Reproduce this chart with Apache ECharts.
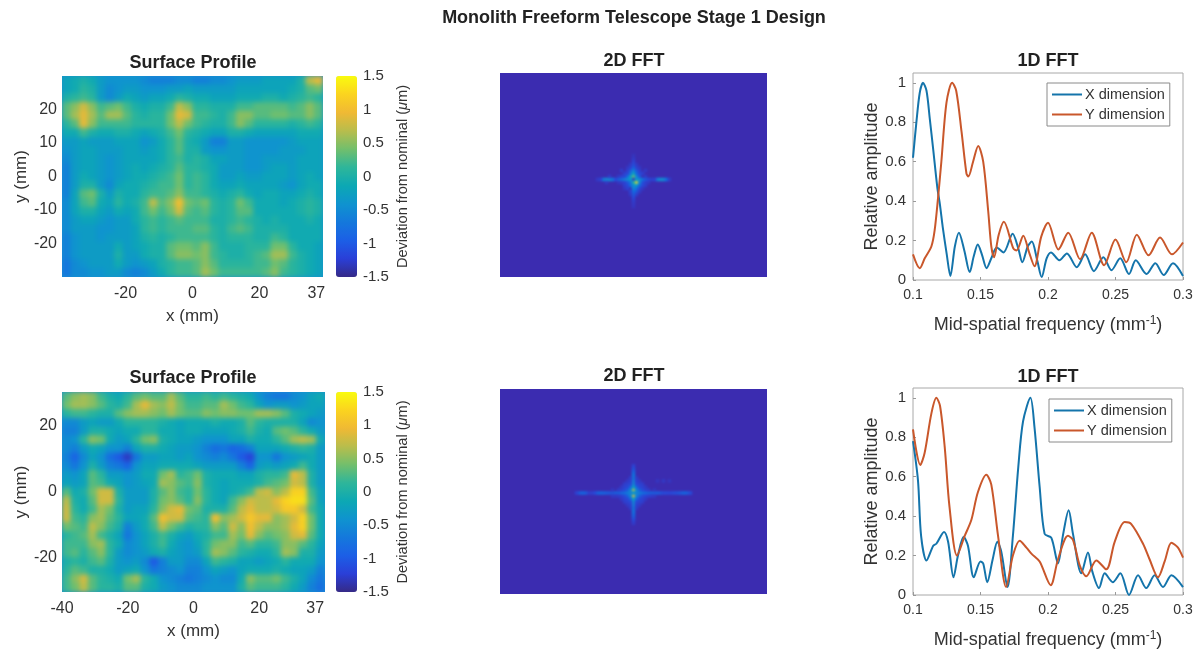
<!DOCTYPE html>
<html><head><meta charset="utf-8">
<style>html,body{margin:0;padding:0;background:#fff;overflow:hidden}#c{width:1204px;height:651px}</style>
<script src="https://cdn.jsdelivr.net/npm/echarts@6/dist/echarts.min.js"></script>
</head><body><div id="c"></div>
<script>
// Surface deviation, tenths of a micron, rows top to bottom
const surfaceTop = [
[-2,-1,0,-1,-3,-4,-4,-4,-4,-5,-6,-6,-6,-5,-5,-6,-6,-5,-5,-4,-3,-3,-3,-2,-2,-2,-2,0,7,9],
[-2,-1,1,0,-3,-5,-4,-3,-3,-4,-4,-4,-3,-3,-2,-3,-3,-3,-3,-3,-2,-2,-2,-2,-2,-2,-1,0,3,4],
[0,1,2,1,-3,-5,-3,-1,-2,-3,-2,-2,-1,1,0,-1,-1,-2,-2,-2,-1,-1,-1,0,0,-1,0,1,2,1],
[3,5,8,5,2,3,4,2,0,-1,0,0,2,7,5,1,1,0,0,0,2,2,3,3,3,3,2,3,5,3],
[3,6,9,6,3,6,6,3,1,0,1,1,4,9,8,2,2,1,0,2,5,5,3,3,4,4,3,3,5,3],
[1,3,9,5,2,2,2,2,1,1,1,1,4,7,4,2,1,0,0,2,5,3,1,1,1,1,0,1,2,1],
[-1,-1,2,0,-1,-1,0,0,-1,-2,-1,0,2,4,1,0,-1,-2,-2,0,0,-1,-2,-2,-2,-2,-2,-1,-1,-1],
[-3,-3,-2,-3,-3,-3,-2,-2,-2,-4,-3,-1,1,3,0,-1,-3,-6,-6,-3,-3,-4,-4,-4,-4,-4,-3,-2,-2,-2],
[-4,-3,-2,-2,-3,-3,-3,-2,-2,-3,-2,-1,1,3,0,0,-3,-4,-4,-3,-3,-4,-4,-4,-4,-3,-3,-3,-2,-2],
[-5,-3,-2,-2,-3,-4,-3,-2,-2,-2,-2,-1,1,2,0,1,0,-2,-2,-3,-3,-4,-4,-3,-3,-3,-3,-2,-2,-2],
[-6,-3,-2,-2,-3,-4,-3,-2,-1,-2,-1,0,1,3,1,1,0,-1,-3,-3,-3,-4,-4,-3,-2,-2,-3,-2,-2,-2],
[-6,-3,-1,-2,-3,-4,-3,-2,-1,-1,0,1,2,4,1,2,1,-1,-3,-3,-2,-3,-3,-2,-2,-2,-3,-2,-1,-2],
[-6,-3,0,0,-3,-5,-2,-1,-1,0,1,2,2,4,1,2,1,-1,-2,-2,-1,-2,-2,-2,-2,-3,-4,-2,-1,-1],
[-6,-2,3,4,0,-3,0,-1,-1,1,2,2,3,5,2,2,1,0,-1,0,1,-1,-2,-1,-1,-2,-2,-1,0,-1],
[-5,-2,2,3,-1,-2,1,-1,0,2,7,3,5,10,4,3,4,1,0,1,4,2,-1,-1,-1,-2,-1,0,1,0],
[-5,-2,0,0,-2,-3,-1,-2,-1,2,4,2,4,8,3,2,3,1,0,1,3,3,-1,-1,-1,-1,-1,0,1,0],
[-5,-3,-2,-2,-3,-4,-3,-3,-1,1,2,1,2,3,2,2,2,0,0,1,2,1,0,-1,0,-1,-1,-1,0,-1],
[-5,-3,-3,-3,-4,-4,-3,-3,-2,1,2,1,2,2,2,3,3,1,0,2,3,2,0,0,0,0,-1,-1,-1,-1],
[-6,-4,-3,-3,-4,-3,-3,-3,-2,0,1,0,1,2,2,2,2,1,0,1,1,1,0,0,2,1,-1,-1,-1,-1],
[-6,-4,-3,-3,-3,-3,-1,-3,-2,-1,0,0,3,4,4,3,5,2,0,0,0,1,1,1,4,4,1,-1,-1,-2],
[-6,-4,-3,-3,-3,-3,0,-3,-3,-1,0,0,3,5,5,4,5,2,1,0,0,1,2,3,6,6,2,0,-1,-2],
[-7,-5,-4,-3,-3,-3,-1,-3,-4,-3,-2,0,1,2,2,3,5,3,1,1,1,1,2,2,4,3,1,0,-1,-2],
[-7,-5,-5,-4,-4,-3,-3,-5,-6,-5,-3,-1,1,2,2,3,6,4,2,2,2,2,2,3,5,2,1,0,-1,-2]];
const surfaceBottom = [
[3,5,6,5,2,0,-1,1,3,4,3,3,6,3,1,1,2,1,2,1,0,-1,-4,-6,-7,-7,-5,-4,-2,-1],
[4,6,6,5,3,1,0,2,6,9,6,5,7,4,2,2,3,3,6,4,2,1,-2,-4,-3,-3,-4,-3,-2,-2],
[1,2,2,1,0,0,3,5,6,6,5,4,6,4,3,3,5,4,5,5,4,4,6,6,5,3,0,-1,-2,-3],
[-5,-5,-3,-2,-3,-3,-1,1,1,1,1,0,-1,-2,-1,-1,-1,0,-1,-1,0,3,1,0,0,0,0,-2,-5,-4],
[-6,-6,-3,0,0,-1,-2,-1,-1,1,1,-1,-1,-2,-1,-1,-2,-2,-2,-1,0,2,0,-1,3,4,3,1,-1,-3],
[-5,-4,1,5,4,-1,-3,-2,1,4,5,0,-1,-2,-2,-3,-4,-4,-4,-2,-2,0,-1,-1,1,3,6,7,6,-1],
[-5,-6,-3,-1,-2,-4,-4,-6,-2,0,0,-1,-2,-3,-3,-4,-6,-8,-7,-9,-8,-6,-2,-2,-2,-1,0,1,0,-3],
[-6,-9,-5,-2,-4,-8,-10,-13,-7,-3,-3,-2,-2,-3,-2,-4,-5,-6,-5,-7,-10,-12,-4,-4,-7,-4,-3,-2,-1,-3],
[-5,-7,-4,0,-3,-6,-7,-9,-4,-2,-2,-1,-1,-1,-1,-2,-3,-3,-3,-3,-6,-9,-3,-2,-3,-2,-1,2,-1,-3],
[-3,-4,-2,3,1,-3,-3,-4,-3,-1,-1,4,6,1,2,4,0,-1,-1,-1,-2,-2,0,1,1,2,9,7,0,-3],
[-2,-3,-2,3,2,-1,-2,-4,-3,-2,-1,6,5,3,2,5,0,-1,-2,-1,-1,-1,0,2,3,4,8,7,0,-3],
[3,-1,0,4,8,8,0,-3,-3,-3,0,3,5,2,1,4,1,-1,-2,-1,0,2,7,8,5,7,12,12,2,-2],
[7,0,-1,3,8,8,1,-3,-3,-3,0,4,5,3,1,5,1,-1,-2,2,5,8,7,7,9,12,13,13,3,-2],
[8,1,-1,2,6,4,0,-3,-2,-2,1,5,8,9,4,3,0,0,0,3,7,9,7,7,8,11,11,8,2,-1],
[8,2,1,5,6,3,1,-2,-2,-1,3,10,8,8,3,2,1,10,5,6,8,11,9,9,5,6,8,12,4,-1],
[4,3,2,7,5,2,0,-6,-3,-1,2,7,4,2,0,1,1,5,3,8,5,10,7,5,5,6,9,12,4,-1],
[1,2,3,6,2,0,-2,-7,-4,-2,0,2,0,-2,-3,-1,0,2,2,6,4,9,5,3,4,5,8,9,3,-1],
[2,2,2,5,6,1,-1,-5,-4,-2,0,2,-1,-3,-4,-2,1,4,5,5,2,3,1,1,2,5,5,3,1,-2],
[2,3,1,3,5,1,-3,-5,-4,-3,-1,0,-2,-3,-4,-3,1,6,5,3,1,0,-1,-1,1,6,5,0,0,-3],
[0,1,0,2,3,0,-3,-4,-3,-5,-10,-6,-3,-3,-5,-5,-2,2,1,0,-2,-2,-3,-2,-1,1,-1,-1,-1,-4],
[1,3,2,0,0,-1,-3,-2,-1,-4,-7,-6,-5,-4,-6,-6,-4,-2,-3,-4,-2,-1,-1,-1,0,-1,-2,-2,-3,-6],
[2,5,8,3,1,0,-1,4,6,1,-1,-4,-5,-6,-7,-6,-5,-4,-5,-5,-1,5,3,3,4,2,0,-2,-5,-7],
[2,4,7,3,1,1,0,3,3,0,-1,-3,-4,-5,-5,-5,-4,-4,-4,-4,0,3,2,2,2,1,-1,-3,-6,-8]];
// 2D FFT: bright cells as [column offset, row offset, amplitude] from the centre
const fftTop = [[0,-1,.62],[0,0,.03],[1,1,.92],[0,-2,.42],[-1,-1,.42],[1,-1,.3],[-1,0,.35],[-2,0,.3],[-3,0,.26],[-4,0,.2],[-5,0,.16],[-6,0,.1],[1,0,.35],[2,0,.3],[3,0,.2],[4,0,.14],[5,0,.1],[2,1,.3],[0,1,.5],[-1,1,.22],[0,2,.3],[1,2,.36],[-1,2,.18],[2,2,.18],[0,3,.26],[1,3,.2],[0,4,.18],[1,4,.14],[0,5,.15],[0,6,.1],[0,7,.07],[0,-3,.26],[-1,-3,.15],[1,-3,.14],[0,-4,.16],[0,-5,.11],[0,-6,.08],[-1,-2,.22],[1,-2,.18],[-2,-1,.2],[2,-1,.14],[-3,-1,.1],[3,1,.12],[-2,1,.14],[-3,1,.08],[-2,-2,.1],[2,-2,.1],[-2,2,.1],[3,2,.1],[-10,0,.22],[-9,0,.28],[-8,0,.28],[-7,0,.2],[-11,0,.08],[-12,0,.05],[8,0,.24],[9,0,.28],[10,0,.28],[11,0,.18],[12,0,.06],[6,0,.07],[7,0,.08],[-8,-1,.06],[-9,1,.05],[4,-3,.05],[-4,-3,.06],
[-3,-2,.07],[3,-2,.07],[-3,2,.07],[4,2,.06],[-4,-1,.08],[4,-1,.06],[-4,1,.06],[4,1,.07],[-2,-3,.07],[2,-3,.07],[-2,3,.08],[2,3,.1],[-1,4,.08],[2,4,.06],[-1,-4,.08],[1,-4,.08],[-1,5,.05],[1,5,.07],[-1,-5,.05],[1,-5,.05],[-2,-4,.04],[2,-4,.04],[-5,-1,.05],[5,1,.05],[-5,1,.04],[3,3,.05],[-3,3,.04],[0,8,.05],[0,9,.04],[0,-7,.05],[0,-8,.03]];
const fftBottom = [[0,-1,.72],[0,1,.78],[0,0,.36],[0,-2,.42],[0,2,.42],[-1,-1,.3],[1,-1,.3],[-1,1,.3],[1,1,.28],[-1,0,.26],[1,0,.26],[-2,0,.24],[2,0,.24],[-3,0,.2],[3,0,.2],[-4,0,.18],[4,0,.18],[-5,0,.16],[5,0,.16],[-6,0,.15],[6,0,.15],[-7,0,.14],[7,0,.15],[-8,0,.13],[8,0,.14],[-9,0,.14],[9,0,.12],[-10,0,.15],[10,0,.1],[-11,0,.16],[11,0,.1],[-12,0,.15],[12,0,.09],[-13,0,.1],[13,0,.1],[-14,0,.07],[14,0,.11],[-15,0,.07],[15,0,.12],[-16,0,.14],[16,0,.14],[-17,0,.16],[17,0,.16],[-18,0,.14],[18,0,.14],[-19,0,.08],[19,0,.1],[0,-3,.3],[0,-4,.25],[0,-5,.22],[0,-6,.2],[0,-7,.16],[0,-8,.12],[0,-9,.08],[0,3,.3],[0,4,.25],[0,5,.22],[0,6,.2],[0,7,.17],[0,8,.14],[0,9,.1],[0,10,.06],[-1,-2,.18],[1,-2,.18],[-1,2,.18],[1,2,.18],[-2,-1,.16],[2,-1,.16],[-2,1,.16],[2,1,.16],[-3,-1,.11],[3,-1,.11],[-3,1,.11],[3,1,.11],[-4,1,.08],[4,1,.09],[-4,-1,.08],[4,-1,.08],[-2,-2,.1],[2,-2,.1],[-2,2,.1],[2,2,.1],[-1,-3,.1],[1,-3,.1],[-1,3,.1],[1,3,.1],[-5,1,.06],[5,1,.07],[-6,1,.05],[6,1,.06],[-3,-3,.06],[3,-3,.06],[-3,3,.06],[3,3,.06],[8,-4,.04],[10,-4,.05],[12,-4,.04],
[-3,-2,.08],[3,-2,.08],[-3,2,.08],[3,2,.08],[-2,-3,.08],[2,-3,.08],[-2,3,.08],[2,3,.08],[-1,-4,.08],[1,-4,.08],[-1,4,.08],[1,4,.08],[-1,-5,.06],[1,-5,.06],[-1,5,.06],[1,5,.06],[-5,-1,.06],[5,-1,.06],[-7,1,.05],[7,1,.05],[-7,-1,.04],[7,-1,.04],[-4,-2,.05],[4,-2,.05],[-4,2,.05],[4,2,.05],[-2,-4,.05],[2,-4,.05],[-2,4,.05],[2,4,.05]];
// 1D FFT curves as [frequency, relative amplitude]
const topX = [[.1,.62],[.1025,.8],[.105,.95],[.1074,1],[.11,.96],[.1124,.82],[.115,.66],[.118,.47],[.12,.38],[.122,.27],[.125,.13],[.1277,.02],[.131,.17],[.134,.24],[.138,.15],[.142,.04],[.145,.12],[.148,.18],[.151,.13],[.1545,.06],[.158,.11],[.162,.165],[.167,.14],[.1738,.235],[.178,.16],[.181,.09],[.185,.17],[.188,.195],[.192,.1],[.1953,.015],[.199,.11],[.2022,.14],[.2084,.1],[.214,.135],[.2213,.065],[.2275,.13],[.234,.045],[.241,.115],[.247,.05],[.2535,.11],[.26,.03],[.265,.1],[.273,.03],[.2795,.085],[.2857,.025],[.2926,.085],[.3,.02]];
const topY = [[.1,.13],[.105,.06],[.1087,.11],[.1136,.17],[.116,.25],[.1186,.42],[.121,.6],[.1248,.9],[.129,1],[.132,.96],[.136,.75],[.1396,.54],[.141,.525],[.1445,.6],[.1483,.68],[.152,.6],[.1557,.35],[.158,.17],[.16,.115],[.1635,.23],[.1673,.295],[.1743,.16],[.1767,.15],[.1817,.225],[.186,.14],[.19,.07],[.195,.22],[.2,.29],[.2077,.155],[.215,.24],[.2238,.105],[.2324,.24],[.2416,.075],[.25,.205],[.258,.09],[.2658,.23],[.2745,.125],[.283,.215],[.2918,.13],[.3,.19]];
const bottomX = [[.1,.78],[.1037,.58],[.106,.3],[.11,.175],[.115,.25],[.1173,.26],[.123,.32],[.126,.27],[.13,.09],[.1333,.2],[.1375,.295],[.1407,.25],[.145,.09],[.15,.17],[.152,.16],[.155,.065],[.159,.18],[.1625,.27],[.1654,.22],[.17,.04],[.174,.3],[.178,.65],[.1815,.88],[.187,1],[.19,.85],[.1938,.55],[.1975,.31],[.2025,.29],[.2074,.16],[.211,.3],[.2153,.43],[.2185,.31],[.2247,.11],[.2296,.215],[.2328,.12],[.2378,.035],[.242,.11],[.248,.065],[.2536,.11],[.26,0],[.2667,.1],[.2728,.035],[.279,.1],[.2852,.04],[.2914,.1],[.3,.04]];
const bottomY = [[.1,.84],[.1054,.66],[.1086,.72],[.1136,.92],[.1173,1],[.12,.96],[.1235,.75],[.127,.45],[.1326,.2],[.1383,.3],[.1432,.38],[.148,.52],[.1543,.61],[.158,.56],[.163,.3],[.169,.04],[.174,.2],[.179,.275],[.184,.24],[.1877,.21],[.1938,.17],[.202,.05],[.2074,.18],[.2148,.3],[.2185,.28],[.2235,.15],[.2284,.095],[.2358,.175],[.2432,.13],[.2494,.27],[.2568,.37],[.2617,.36],[.2704,.26],[.2753,.18],[.2815,.09],[.2864,.17],[.2914,.265],[.2963,.24],[.3,.19]];
const surfaceXTicks = [[-20,0,20,37],[-40,-20,0,20,37]];
const surfaceYTicks = [[-20,-10,0,10,20],[-20,0,20]];
const colorbarTicks = [-1.5,-1,-.5,0,.5,1,1.5];
const amplitudeTicks = [0,.2,.4,.6,.8,1];
const parula = ['#352a87','#2a3fd8','#1c5fe6','#1478dc','#0f93cf','#0ca8b4','#2eb69a','#72bf6c','#b8bd4c','#f0b934','#fbd41f','#f9fb0e'];
const FONT = '"Liberation Sans", Arial, sans-serif', INK = '#333';
const COLS = 89, ROWS = 68;
const range = n => Array.from({length:n},(_,i)=>i);

const grid=[],xAxis=[],yAxis=[],series=[],visualMap=[],graphic=[],legend=[];
function addGrid(r){ grid.push(Object.assign({containLabel:false,zlevel:2},r)); return grid.length-1; }
function hiddenCat(n,pos,g){ return {type:'category',gridIndex:g,data:range(n),show:false,position:pos,zlevel:2}; }
const surfaceRects=[], fftRects=[];

function surfacePanel(data,rect,xr,yr,xt,yt,vmTop){
  const g=addGrid(rect);
  const cx=xAxis.length, cy=yAxis.length;
  xAxis.push(hiddenCat(data[0].length,'top',g));
  yAxis.push(Object.assign(hiddenCat(data.length,'right',g),{inverse:true}));
  xAxis.push({type:'value',gridIndex:g,position:'bottom',min:xr[0],max:xr[1],zlevel:2,
    name:'x (mm)',nameLocation:'middle',nameGap:31,nameTextStyle:{fontFamily:FONT,fontSize:17,color:INK},
    axisLine:{show:false},axisTick:{show:false},splitLine:{show:false},
    axisLabel:{customValues:xt,margin:9,fontFamily:FONT,fontSize:16,color:INK,showMinLabel:true,showMaxLabel:true}});
  yAxis.push({type:'value',gridIndex:g,position:'left',min:yr[0],max:yr[1],zlevel:2,
    name:'y (mm)',nameLocation:'middle',nameGap:32,nameTextStyle:{fontFamily:FONT,fontSize:17,color:INK},
    axisLine:{show:false},axisTick:{show:false},splitLine:{show:false},
    axisLabel:{customValues:yt,margin:5,fontFamily:FONT,fontSize:16,color:INK}});
  const pts=[]; data.forEach((row,r)=>row.forEach((v,c)=>pts.push([c,r,v/10])));
  const si=series.length;
  series.push({type:'heatmap',xAxisIndex:cx,yAxisIndex:cy,data:pts,zlevel:0,z:2,silent:true,progressive:0,itemStyle:{borderWidth:0}});
  graphic.push({type:'rect',zlevel:0,z:0,silent:true,shape:{x:rect.left-12,y:rect.top-12,width:rect.width+24,height:rect.height+24},style:{fill:'#1a8fd0'}});
  surfaceRects.push(rect);
  visualMap.push({type:'continuous',show:true,seriesIndex:si,min:-1.5,max:1.5,left:336,top:vmTop,itemWidth:21,itemHeight:rect.height,padding:0,
    calculable:false,text:null,hoverLink:false,inRange:{color:parula},zlevel:2,textStyle:{fontSize:0}});
  const gb=addGrid({left:336,top:vmTop,width:21,height:rect.height});
  xAxis.push({type:'value',gridIndex:gb,show:false,min:0,max:1,zlevel:2});
  yAxis.push({type:'value',gridIndex:gb,position:'right',min:-1.5,max:1.5,zlevel:2,
    name:'Deviation from nominal ({i|μ}m)',nameLocation:'middle',nameGap:38,
    nameTextStyle:{fontFamily:FONT,fontSize:14.6,color:INK,rich:{i:{fontFamily:FONT,fontSize:14.6,fontStyle:'italic',color:INK}}},
    axisLine:{show:false},axisTick:{show:false},splitLine:{show:false},
    axisLabel:{customValues:colorbarTicks,margin:6,fontFamily:FONT,fontSize:15,color:INK}});
}
function fftPanel(cells,rect,cc,cr){
  const g=addGrid(rect);
  const cx=xAxis.length, cy=yAxis.length;
  xAxis.push(hiddenCat(COLS,'bottom',g));
  yAxis.push(Object.assign(hiddenCat(ROWS,'left',g),{inverse:true}));
  const si=series.length;
  series.push({type:'heatmap',xAxisIndex:cx,yAxisIndex:cy,data:cells.map(c=>[cc+c[0],cr+c[1],c[2]]),zlevel:1,z:2,silent:true,itemStyle:{borderWidth:0}});
  graphic.push({type:'rect',zlevel:1,z:0,silent:true,shape:{x:rect.left-8,y:rect.top-8,width:rect.width+16,height:rect.height+16},style:{fill:'#3b2cb0'}});
  fftRects.push(rect);
  visualMap.push({type:'continuous',show:false,seriesIndex:si,min:0,max:1,inRange:{color:['#3b2cb0','#2a46d8','#0f6fe0','#1389d2','#089ec9','#10aeb0','#38b891','#7cbf6b','#bbbc4c','#efb934','#fbd41f','#f9fb0e']}});
}
function linePanel(x,y,rect,lg){
  const g=addGrid(Object.assign({show:true,borderColor:'#a8a8a8',borderWidth:1,backgroundColor:'transparent'},rect));
  const cx=xAxis.length, cy=yAxis.length;
  xAxis.push({type:'value',gridIndex:g,min:.1,max:.3,interval:.05,zlevel:2,
    name:'Mid-spatial frequency (mm{s|-1})',nameLocation:'middle',nameGap:35,
    nameTextStyle:{fontFamily:FONT,fontSize:18,color:INK,rich:{s:{fontFamily:FONT,fontSize:12,color:INK,verticalAlign:'bottom',padding:[0,0,9,0]}}},
    axisLine:{show:false},axisTick:{inside:true,length:3,lineStyle:{color:'#999'}},splitLine:{show:false},
    axisLabel:{margin:8,fontFamily:FONT,fontSize:14,color:INK}});
  yAxis.push({type:'value',gridIndex:g,min:0,max:1.05,zlevel:2,
    name:'Relative amplitude',nameLocation:'middle',nameGap:32,nameTextStyle:{fontFamily:FONT,fontSize:18,color:INK},
    axisLine:{show:false},axisTick:{inside:true,length:3,lineStyle:{color:'#999'},customValues:amplitudeTicks},splitLine:{show:false},
    axisLabel:{customValues:amplitudeTicks,margin:7,fontFamily:FONT,fontSize:15,color:INK}});
  const mk=(name,data,color)=>({type:'line',name,data,xAxisIndex:cx,yAxisIndex:cy,showSymbol:false,symbol:'none',smooth:.3,zlevel:2,lineStyle:{width:2,color},itemStyle:{color},silent:true});
  series.push(mk('X dimension',x,'#1474ab'),mk('Y dimension',y,'#c9572b'));
  legend.push({left:lg[0],top:lg[1],orient:'vertical',zlevel:2,selectedMode:false,data:['X dimension','Y dimension'],icon:'rect',
    itemWidth:30,itemHeight:2,itemGap:5,padding:[4,5,4,5],borderColor:'#8a8a8a',borderWidth:1,backgroundColor:'#fff',
    textStyle:{fontFamily:FONT,fontSize:14.5,lineHeight:14,color:INK,padding:[0,0,0,-2]}});
}
const topSurf={left:62,top:76,width:261,height:201}, botSurf={left:62,top:392,width:263,height:200};
surfacePanel(surfaceTop,topSurf,[-39,39],[-30,30],surfaceXTicks[0],surfaceYTicks[0],76);
surfacePanel(surfaceBottom,botSurf,[-40,40],[-30.3,30.3],surfaceXTicks[1],surfaceYTicks[1],392);
const topFft={left:500,top:73,width:267,height:204}, botFft={left:500,top:389,width:267,height:205};
fftPanel(fftTop,topFft,44,35);
fftPanel(fftBottom,botFft,44,34);
linePanel(topX,topY,{left:913,top:73,width:270,height:207},[1047,83]);
linePanel(bottomX,bottomY,{left:913,top:388,width:270,height:207},[1049,399]);

const t=(text,x,y,size)=>({text,left:x,top:y,textAlign:'center',zlevel:2,padding:0,textStyle:{fontFamily:FONT,fontSize:size,fontWeight:'bold',color:'#222'}});
const title=[t('Monolith Freeform Telescope Stage 1 Design',634,9,18),t('Surface Profile',193,54,18),t('2D FFT',634,52,18),t('1D FFT',1048,52,18),
  t('Surface Profile',193,369,18),t('2D FFT',634,367,18),t('1D FFT',1048,368,18)];

const chart=echarts.init(document.getElementById('c'),null,{renderer:'canvas',width:1204,height:651});
chart.setOption({animation:false,backgroundColor:'#fff',title,grid,xAxis,yAxis,series,visualMap,legend,graphic:{elements:graphic},tooltip:{show:false}});

// Soften the raster layers so they read like the interpolated images in the original.
const clip=rs=>"path('"+rs.map(r=>`M${r.left} ${r.top}H${r.left+r.width}V${r.top+r.height}H${r.left}Z`).join(' ')+"')";
function soften(){
  const cs=chart.getDom().querySelectorAll('canvas');
  if(cs.length<3) return;
  cs[0].style.filter='blur(2.8px)'; cs[0].style.clipPath=clip(surfaceRects);
  cs[1].style.filter='blur(1.2px)'; cs[1].style.clipPath=clip(fftRects);
  cs[2].style.filter='blur(0.4px)';
}
soften();
</script></body></html>
